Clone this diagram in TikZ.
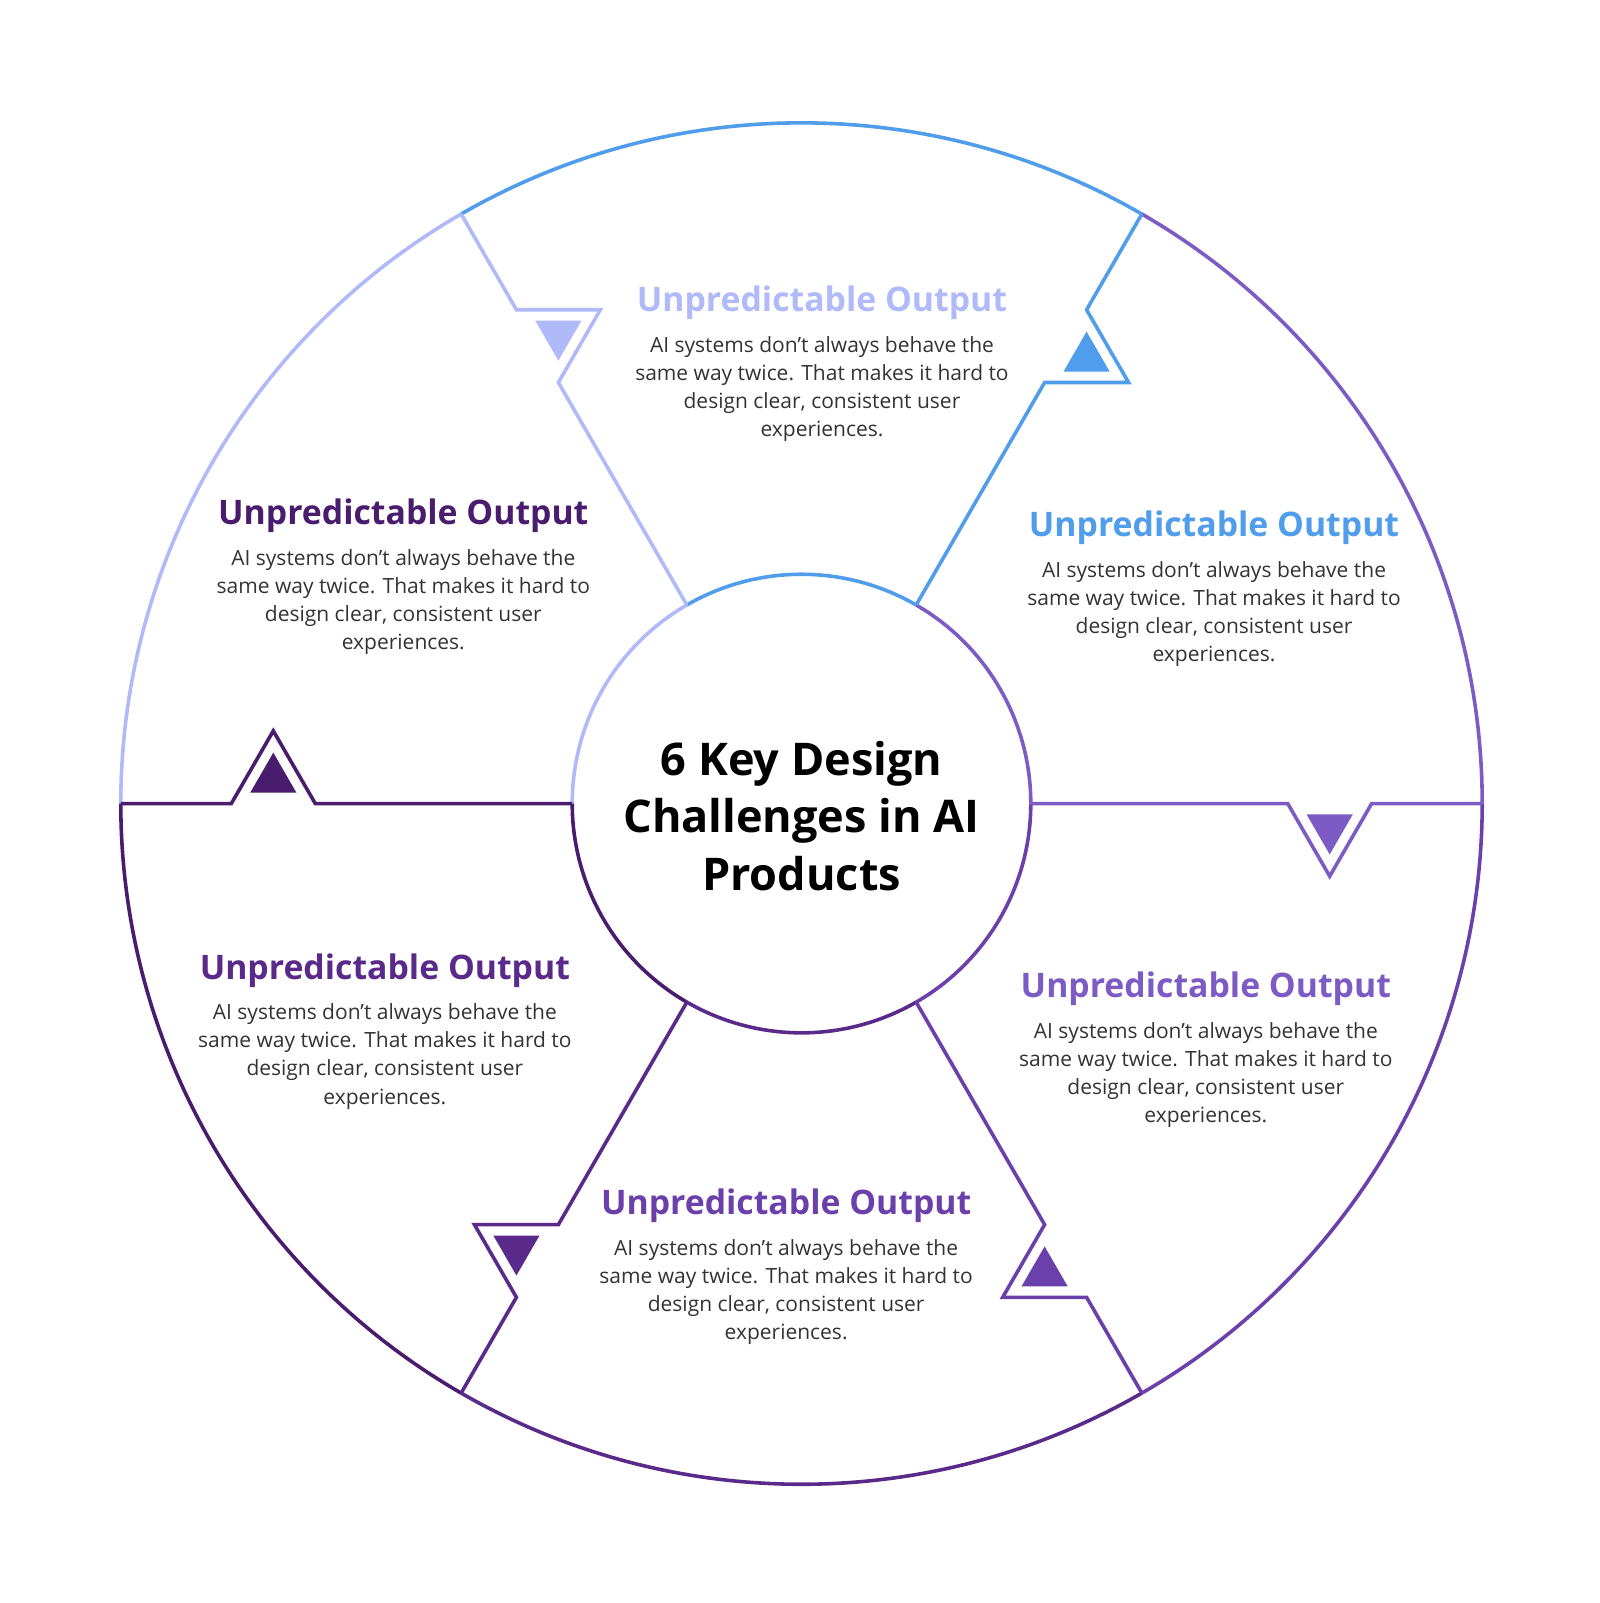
\documentclass[tikz,border=0pt]{standalone}
\usepackage{fontspec}
\setmainfont{Open Sans}
\usetikzlibrary{calc}
\definecolor{cA}{HTML}{B0BAF8}
\definecolor{cB}{HTML}{4F9DEB}
\definecolor{cC}{HTML}{7C5CC4}
\definecolor{cD}{HTML}{6B40AA}
\definecolor{cE}{HTML}{5A2A8A}
\definecolor{cF}{HTML}{4A1C6E}
\definecolor{body}{HTML}{333333}
\newcommand{\bodytext}{AI systems don’t always behave the\\same way twice. That makes it hard to\\design clear, consistent user\\experiences.}
\tikzset{
  ttl/.style={font=\fontsize{33}{38}\selectfont\bfseries, align=center},
  txt/.style={font=\fontsize{20.5}{27.5}\selectfont, text=body, align=center},
  seg/.style={line width=3.5pt, line join=miter}
}
\begin{document}
\begin{tikzpicture}[x=1pt,y=-1pt]
\useasboundingbox (0,0) rectangle (1563,1566);
\fill[white] (0,0) rectangle (1563,1566);
\coordinate (c) at (783,785);
\foreach \a/\b/\col in {0/60/cC,60/120/cB,120/180/cA,180/240/cF,240/300/cE,300/360/cD}{%
  \draw[seg,\col] ($(c)+(-\a:665)$) arc[start angle=-\a, end angle=-\b, radius=665];%
  \draw[seg,\col] ($(c)+(-\a:224)$) arc[start angle=-\a, end angle=-\b, radius=224];%
}
\foreach \t/\col in {0/cC,60/cB,120/cA,180/cF,240/cE,300/cD}{%
  \coordinate (i\t) at ($(c)+(-\t:224)$);%
  \coordinate (p\t) at ($(c)+(-\t:475)$);%
  \coordinate (q\t) at ($(c)+(-\t:557)$);%
  \coordinate (a\t) at ($(c)+(-\t:516)+(-\t+90:71)$);%
  \coordinate (o\t) at ($(c)+(-\t:665)$);%
  \coordinate (g\t) at ($1/3*(p\t)+1/3*(q\t)+1/3*(a\t)$);%
  \draw[seg,\col] (i\t) -- (p\t) -- (a\t) -- (q\t) -- (o\t);%
  \fill[\col] ($(g\t)!0.55!(p\t)$) -- ($(g\t)!0.55!(a\t)$) -- ($(g\t)!0.55!(q\t)$) -- cycle;%
}
\node[font=\fontsize{44}{56}\selectfont\bfseries, align=center] (ctr) at (783,797) {6 Key Design\\Challenges in AI\\Products};
\foreach \x/\y/\col/\n in {803/296/cA/t1,1186/516/cB/t2,1178/966/cC/t3,768/1178/cD/t4,376/948/cE/t5,394/504/cF/t6}{%
  \node[ttl,text=\col] (\n) at (\x,\y) {Unpredictable Output};%
  \node[txt,anchor=north] (\n b) at (\x,\y+29) {\bodytext};%
}
\end{tikzpicture}
\end{document}
